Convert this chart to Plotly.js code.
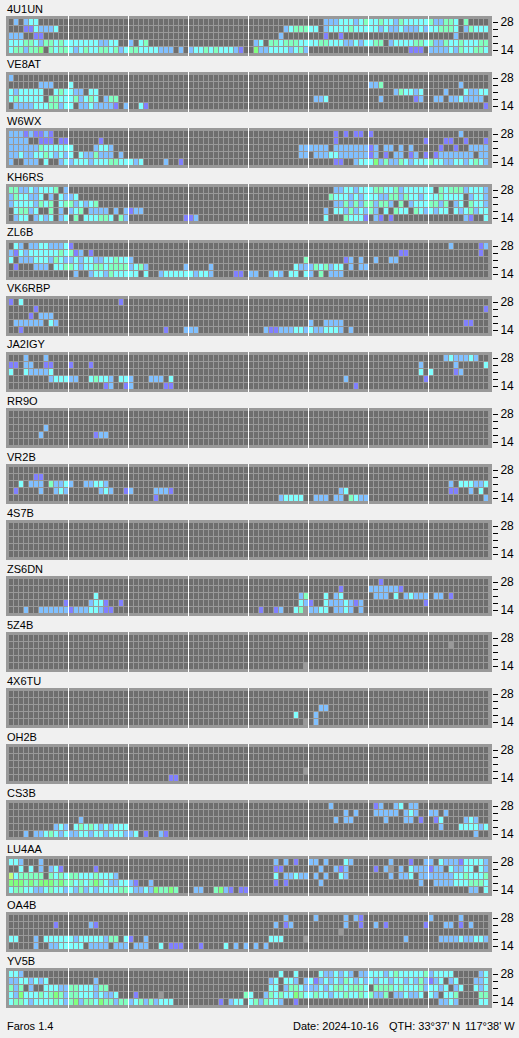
<!DOCTYPE html>
<html><head><meta charset="utf-8">
<script src="https://cdn.plot.ly/plotly-3.0.0.min.js"></script>
<style>html,body{margin:0;padding:0;background:#f0f0f0}#c{width:519px;height:1038px}</style>
</head><body><div id="c"></div>
<script>
// Cell levels: 0 no signal, 1..6 rising signal strength, 7 no data. '-' is an empty 3-hour block.
const stations = ['4U1UN','VE8AT','W6WX','KH6RS','ZL6B','VK6RBP','JA2IGY','RR9O','VR2B','4S7B','ZS6DN','5Z4B','4X6TU','OH2B','CS3B','LU4AA','OA4B','YV5B'];
const bandTicks = ['14','','','','28'];
const s4U1UN = [
 '020233000000 - - - - 000222333234 334332433333 422443040000',
 '000113222300 - - - 000000023444 330233334333 332322322232 334443024333',
 '222001100000 - - - 000000200000 000100100000 - 000002000000',
 '333443244343 333333223300 203400000000 - 023044344433 334433322323 344023333443 422433433344',
 '344244504344 323433443423 443333222020 233434333210 052233332342 - 000000001110 222232433443'];
const sVE8AT = [
 '200000000000 - - - - - - -',
 '000000222000 300000000000 - - - - 224000000000 000000200000',
 '323333300343 322033000000 - - - - 000002433230 000200032233',
 '343333304433 342343024400 - - - 022300000000 002000000120 022022322220',
 '022223334423 302232222102 003100000000 - - - - 000000000001'];
const sW6WX = [
 '222121121000 - - - - 000001010110 100000000000 000000200000',
 '222200111011 000000100000 - - - 000001000000 000000000001 000110010001',
 '222222433333 300002332000 - - 000000000022 222202222222 120220202000 001001002222',
 '223223343232 303224222020 - - 000000000022 022233222222 120102201201 012222222022',
 '200222030023 233323334433 323000020010 - - 000001100233 352422432333 433223323432'];
const sKH6RS = [
 '442232333402 - - - - 000002233233 344334233333 304344423332',
 '243322302032 230000000000 - - - 000043332323 332244243323 334333302332',
 '233332434034 423234000000 - - - 000002242424 424420402333 442402304332',
 '034423004020 234022220202 122000000000 - - 000203324232 420304330432 323303234233',
 '023302323023 040333443042 000000000001 120000000000 - 000300043331 021010000000 000000021003'];
const sZL6B = [
 '032022332223 100000000000 - - - - - 000020000012',
 '213233333343 412010000000 - - - - 000000110000 000000000010',
 '302223332432 232332233433 200000000000 - 000000000004 000000012020 020022000000 -',
 '010002220334 432334434444 234200000002 000020000000 000000000322 243423302022 - -',
 '- 020023324333 330300233333 323320000110 220023203303 204022200000 - -'];
const sVK6RBP = [
 '103000000000 000000000010 - - - - - -',
 '000001000000 - - - - - - 000000000001',
 '000010222000 - - - - - - -',
 '022222203200 - - - - 200222200000 - 000000011000',
 '001000000000 - 000000010002 220000000000 000211222332 322333202000 - -'];
const sJA2IGY = [
 '000200020000 - - - - - - 000232223200',
 '110220011000 100010000000 - - - - 000000000020 000002000003',
 '300322223000 - - - - - 000000000030 300001200000',
 '000000002333 220034332033 200022203000 - - 000000020000 000000000001 -',
 '- 000000012001 200000011000 - - 000000000100 - -'];
const sRR9O = [
 '- - - - - - - -',
 '- - - - - - - -',
 '000000020000 - - - - - - -',
 '000000200000 000001220000 - - - - - -',
 '- - - - - - - -'];
const sVR2B = [
 '- - - - - - - -',
 '000001100000 - - - - - - -',
 '003022204223 200223320000 - - - - - 000020333223',
 '010000200232 000000232001 200002221000 - - 000000230000 - 000011002030',
 '- - 000001000000 - 000000233330 022202204322 - 000000000002'];
const s4S7B = [
 '- - - - - - - -',
 '- - - - - - - -',
 '- - - - - - - -',
 '- - - - - - - -',
 '- - - - - - - -'];
const sZS6DN = [
 '- - - - - - 001000000000 -',
 '- - - - - 000000100000 222222100000 -',
 '- 000003000000 - - 000000000024 000302300000 022203023222 022010000000',
 '000000000001 000023310010 - - 000000000032 100322232120 000000000001 -',
 '000200222222 122233211000 - - 001001200347 223302232020 - -'];
const s5Z4B = [
 '- - - - - - - -',
 '- - - - - - - 000070000000',
 '- - - - - - - -',
 '- - - - - - - -',
 '- - - - 000000000007 - - -'];
const s4X6TU = [
 '- - - - - - - -',
 '- - - - - - - -',
 '- - - - - 002200000000 - -',
 '- - - - 000000000300 020000000000 - -',
 '- - - - 000000000007 020000000000 - -'];
const sOH2B = [
 '- - - - - - - -',
 '- - - - - - - -',
 '- - - - - - - -',
 '- - - - 000000000007 - - -',
 '- - 000000001100 - - - - -'];
const sCS3B = [
 '- - - - - 000020000000 012002302200 -',
 '- - - - - 000000020200 022222023200 220200000000',
 '- 002000000000 - - - 000002022000 000200022010 013000023200',
 '000000000232 034343232333 - - - - - 002000333323',
 '000202234323 223323323332 230100210000 - - - - 000000000200'];
const sLU4AA = [
 '332000200000 - - - 000002020100 220200032000 000020001002 203222133332',
 '003030202310 000001000000 - - 000001100000 002002120000 010270203222 122032233032',
 '634444404343 443334333200 - - 000003022322 020200320000 000020223022 222223343334',
 '555454555454 434345432233 210020000000 - 000001010000 002000000000 000000000020 022223334443',
 '344332234332 324232333344 322325445400 022004521011 - - - 000000002203'];
const sOA4B = [
 '- - - - 000000020000 020000020210 - 200000200000',
 '000000000100 000021000000 - - 000002012000 000000020010 020100000001 000220102000',
 '- - - - - 000000700000 - -',
 '330002033333 323333324403 100200000000 - 000033300007 - 000000020000 002222322332',
 '000002002233 333022220222 022200301110 001000030202 020200000000 - - -'];
const sYV5B = [
 '332000000000 - - - 000000300300 003223232022 333234333334 233330000023',
 '223323230000 000002000000 - - 000023033202 312323243232 323323323242 123023000223',
 '424020033322 443332440000 - - 000033024432 223234434443 044443433342 332302300323',
 '325333434542 443332322300 010000700000 000000000004 300243433543 343323343343 422402232230 320334000044',
 '344323333432 452443544244 234242333000 000000102330 342433200100 - - 002232000033'];
const grids = [s4U1UN,sVE8AT,sW6WX,sKH6RS,sZL6B,sVK6RBP,sJA2IGY,sRR9O,sVR2B,s4S7B,sZS6DN,s5Z4B,s4X6TU,sOH2B,sCS3B,sLU4AA,sOA4B,sYV5B];
const levelColors = ['#6e6e6e','#8080ff','#80c0ff','#80ffff','#80ffc0','#80ff80','#c0ff80','#999999'];
const footerLeft = 'Faros 1.4';
const footerDate = 'Date: 2024-10-16';
const footerQth = "QTH: 33°37' N";
const footerLon = "117°38' W";

const W = 519, H = 1038;
const FONT = 'Liberation Sans, Arial, sans-serif';
const PANEL_L = 6, PANEL_R = 492, PANEL_H = 40, FIRST_TOP = 16, PITCH = 56;
const CELL_W = 5, CELL_H = 7, COL0 = 11.5, ROW_LOW = 34.5;
const slots = 96, perBlock = 12;

function parseRow(s){
  const out = [];
  s.split(' ').forEach(t => {
    const g = t === '-' ? '0'.repeat(perBlock) : t;
    for (const ch of g) out.push(+ch);
  });
  return out;
}
const colorscale = [];
levelColors.forEach((c,i)=>{ colorscale.push([i/8,c]); colorscale.push([(i+1)/8,c]); });

const xs = Array.from({length:slots},(_,i)=>i);
const ys = bandTicks.map((_,i)=>i);
const traces = [], layout = {
  width:W, height:H, margin:{l:0,r:0,t:0,b:0,pad:0},
  paper_bgcolor:'#f0f0f0', plot_bgcolor:'#999999',
  showlegend:false, shapes:[], annotations:[], font:{family:FONT,size:11,color:'#000'}
};
stations.forEach((name,k)=>{
  const top0 = FIRST_TOP + k*PITCH;
  const sfx = k===0 ? '' : String(k+1);
  // rows are listed top band first; the y index runs from the lowest band up
  const z = grids[k].map(parseRow).reverse();
  traces.push({type:'heatmap', x:xs, y:ys, z:z, xaxis:'x'+sfx, yaxis:'y'+sfx,
    xgap:1, ygap:1, zmin:-0.5, zmax:7.5, colorscale:colorscale, showscale:false, hoverinfo:'skip', zsmooth:false});
  layout['xaxis'+sfx] = {domain:[PANEL_L/W,PANEL_R/W], range:[(PANEL_L-COL0)/CELL_W,(PANEL_R-COL0)/CELL_W],
    anchor:'y'+sfx, showgrid:false, zeroline:false, showticklabels:false, ticks:'', fixedrange:true};
  layout['yaxis'+sfx] = {domain:[1-(top0+PANEL_H)/H,1-top0/H], range:[(ROW_LOW-PANEL_H)/CELL_H,ROW_LOW/CELL_H],
    anchor:'x'+sfx, side:'right', showgrid:false, zeroline:false, tickmode:'array', tickvals:ys, ticktext:bandTicks,
    ticks:'outside', ticklen:5, tickwidth:1, tickcolor:'#000', showline:true, linewidth:1, linecolor:'#f0f0f0',
    ticklabelshift:-1, tickfont:{family:FONT,size:12,color:'#000'}, fixedrange:true};
  for(let b=1;b<8;b++){
    layout.shapes.push({type:'line', xref:'x'+sfx, yref:'y'+sfx+' domain', x0:b*perBlock-0.6, x1:b*perBlock-0.6, y0:0, y1:1,
      line:{color:'#ffffff',width:1}, layer:'above'});
  }
  layout.annotations.push({xref:'paper',yref:'paper',x:6/W,y:1-(top0-7.5)/H,xanchor:'left',yanchor:'middle',
    text:name,showarrow:false,font:{family:FONT,size:11,color:'#000'},borderpad:0});
});
[[footerLeft,6],[footerDate,292],[footerQth,388],[footerLon,464]].forEach(([t,x])=>{
  layout.annotations.push({xref:'paper',yref:'paper',x:x/W,y:1-1025.5/H,xanchor:'left',yanchor:'middle',
    text:t,showarrow:false,font:{family:FONT,size:11,color:'#000'},borderpad:0});
});
Plotly.newPlot('c',traces,layout,{staticPlot:true,displayModeBar:false});
</script></body></html>
